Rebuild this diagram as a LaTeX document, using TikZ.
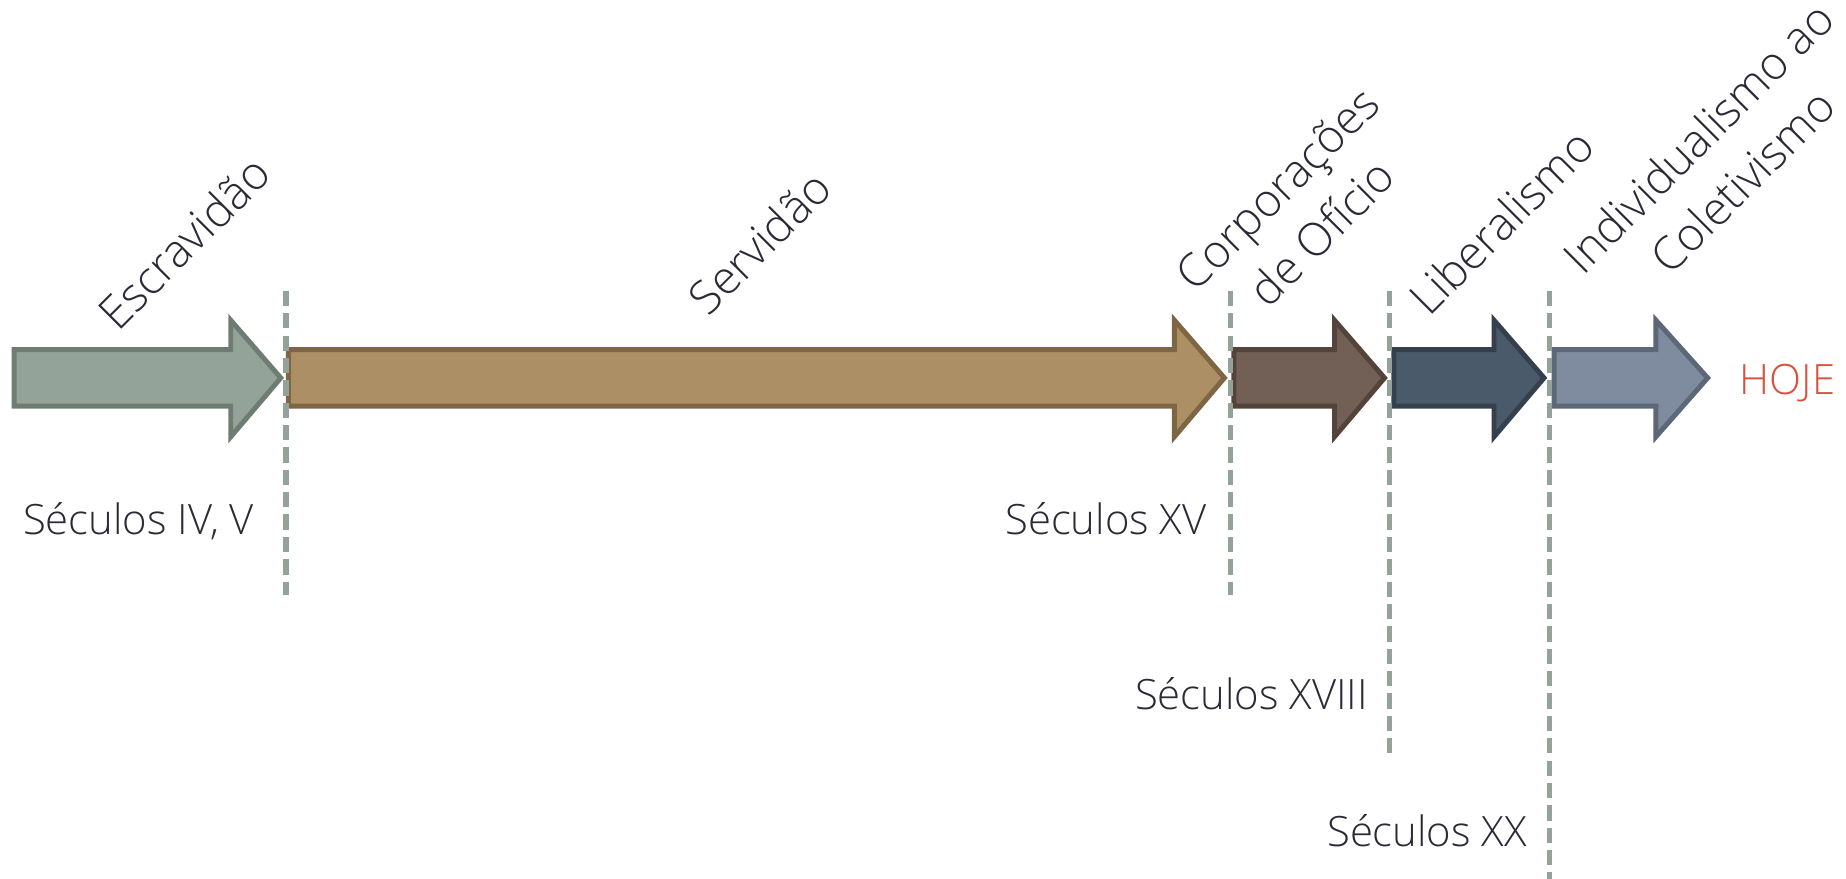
\documentclass[tikz,border=0pt]{standalone}
\usepackage{fontspec}
\setmainfont{Open Sans Light}
\definecolor{txt}{HTML}{2A2A36}
\definecolor{hoje}{HTML}{D9503C}
\definecolor{dashc}{HTML}{94A39A}
\definecolor{fA}{HTML}{94A39A}\definecolor{sA}{HTML}{6F7C71}
\definecolor{fB}{HTML}{AD8F66}\definecolor{sB}{HTML}{7E6644}
\definecolor{fC}{HTML}{725F55}\definecolor{sC}{HTML}{54433B}
\definecolor{fD}{HTML}{4B5A6B}\definecolor{sD}{HTML}{34404E}
\definecolor{fE}{HTML}{7F8CA0}\definecolor{sE}{HTML}{5C6778}
\tikzset{
  arr/.style={line width=4.2pt, line join=miter},
  era/.style={font=\fontsize{39}{53}\selectfont, text=txt, rotate=45, align=center, inner sep=0pt},
  sec/.style={font=\fontsize{35.5}{42}\selectfont, text=txt, anchor=base east, inner sep=0pt},
  divider/.style={draw=dashc, line width=4.5pt, dash pattern=on 13pt off 6pt}
}
\newcommand\tlarrow[4]{%
  \draw[arr,#1] (#2,297) -- (#3,297) -- (#3,272) -- (#4,321) -- (#3,371) -- (#3,345) -- (#2,345) -- cycle;}
\begin{document}
\begin{tikzpicture}[x=1pt,y=-1pt]
\useasboundingbox (0,0) rectangle (1568,746.6);
% arrows
\tlarrow{fill=fA,draw=sA}{12}{196}{238.5}
\tlarrow{fill=fB,draw=sB}{245}{997.5}{1040}
\tlarrow{fill=fC,draw=sC}{1048}{1133.5}{1176}
\tlarrow{fill=fD,draw=sD}{1184}{1269}{1311.5}
\tlarrow{fill=fE,draw=sE}{1320}{1406.5}{1450.5}
% dividers
\coordinate (d1t) at (243,247); \coordinate (d1b) at (243,505);
\coordinate (d2t) at (1045,247); \coordinate (d2b) at (1045,505);
\coordinate (d3t) at (1180.5,247); \coordinate (d3b) at (1180.5,640);
\coordinate (d4t) at (1316,247); \coordinate (d4b) at (1316,746.6);
\draw[divider] (d1t) -- (d1b);
\draw[divider] (d2t) -- (d2b);
\draw[divider] (d3t) -- (d3b);
\draw[divider] (d4t) -- (d4b);
% era labels
\node[era] (escr) at (156,206) {Escravidão};
\node[era] (serv) at (645,206) {Servidão};
\node[era] (corp) at (1104,179) {Corporações\\de Ofício};
\node[era] (libe) at (1275,188) {Liberalismo};
\node[era] (indi) at (1461,135) {Individualismo ao\\Coletivismo};
% century labels
\node[sec] (s1) at (216,454) {Séculos IV, V};
\node[sec] (s2) at (1025,454) {Séculos XV};
\node[sec] (s3) at (1162,603) {Séculos XVIII};
\node[sec] (s4) at (1297,719) {Séculos XX};
\node[font=\fontsize{35.5}{42}\selectfont, text=hoje, anchor=base east, inner sep=0pt] (hoje) at (1559,335) {HOJE};
\end{tikzpicture}
\end{document}
